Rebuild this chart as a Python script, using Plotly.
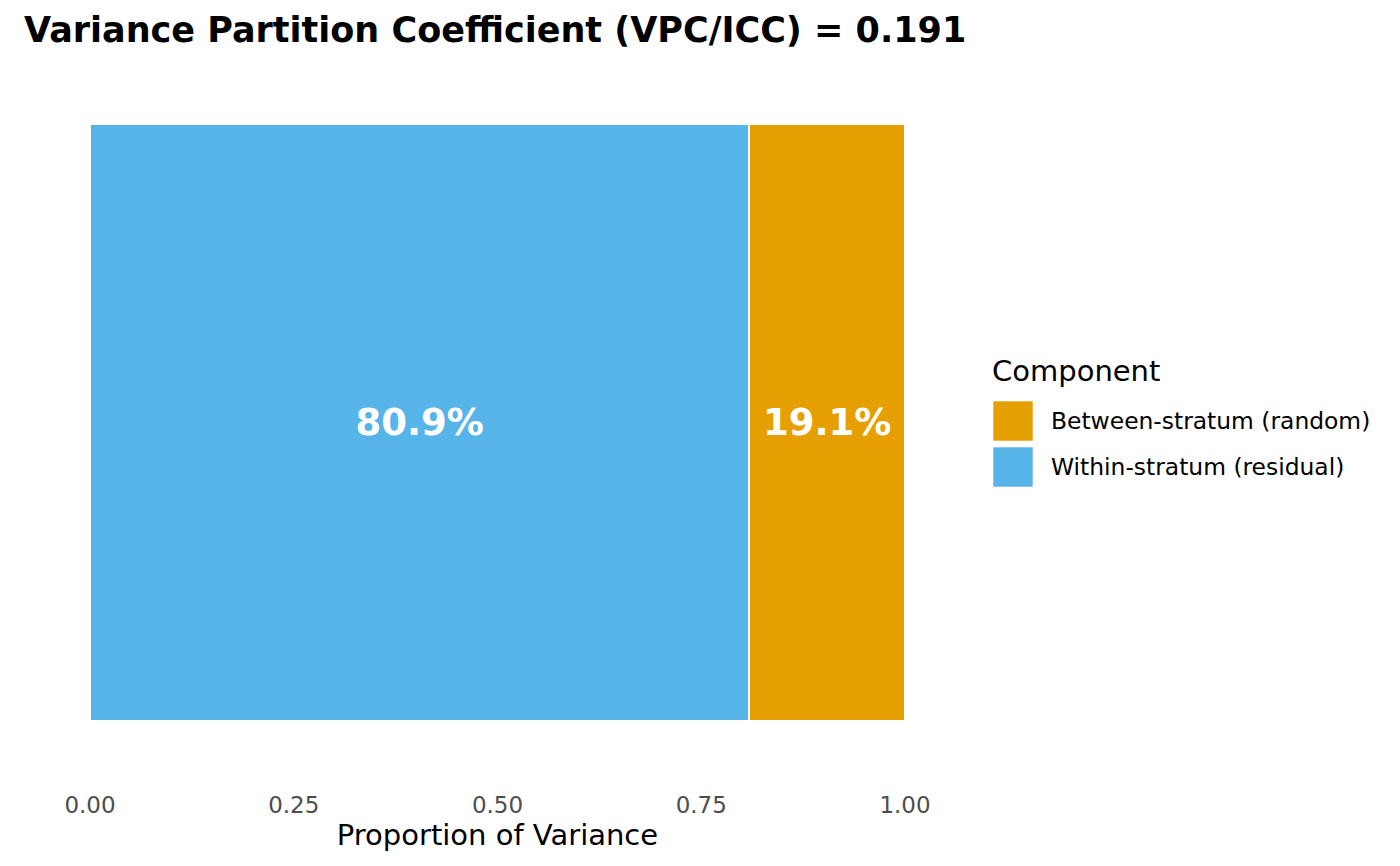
import plotly.graph_objects as go

# ---- data ----
components = ["Within-stratum (residual)", "Between-stratum (random)"]
proportions = [0.809, 0.191]
colors = ["#56B4E9", "#E69F00"]
legend_order = ["Between-stratum (random)", "Within-stratum (residual)"]
x_ticks = [0.0, 0.25, 0.50, 0.75, 1.00]
x_tick_labels = ["0.00", "0.25", "0.50", "0.75", "1.00"]
chart_title = "Variance Partition Coefficient (VPC/ICC) = 0.191"
x_title = "Proportion of Variance"
legend_title = "Component"

FONT = "DejaVu Sans"
W, H = 1400, 866
OFF = 8  # page body margin offset
L, T = 90 - OFF, 124 - OFF
R, B = W - (905 - OFF), H - (721 - OFF)
PW, PH = W - L - R, H - T - B


def px_x(px):
    return (px - OFF - L) / PW


def px_y(py):
    return (H - B - (py - OFF)) / PH


fig = go.Figure()
for name, val, col in zip(components, proportions, colors):
    fig.add_trace(go.Bar(
        x=[val], y=[0], orientation="h", width=0.9, name=name,
        marker=dict(color=col, line=dict(color="white", width=2)),
        text=[f"{val*100:.1f}%"], textposition="inside",
        insidetextanchor="middle", constraintext="none",
        textfont=dict(family=FONT, size=37, color="white", weight="bold"),
        showlegend=False, hoverinfo="x+name",
    ))

fig.update_layout(
    width=W, height=H, barmode="stack",
    margin=dict(l=L, r=R, t=T, b=B),
    paper_bgcolor="white", plot_bgcolor="white",
    font=dict(family=FONT),
    title=dict(text=f"<b>{chart_title}</b>", x=(24 - OFF) / W, xanchor="left",
               xref="container", yref="container", y=1 - (30 - OFF) / H,
               yanchor="middle", font=dict(family=FONT, size=35, color="black")),
    xaxis=dict(range=[0, 1], tickvals=x_ticks, ticktext=x_tick_labels,
               showgrid=False, zeroline=False, showline=False, ticks="",
               tickfont=dict(family=FONT, size=23, color="#4D4D4D"),
               ticklabelstandoff=68,
               title=dict(text=x_title, font=dict(family=FONT, size=29, color="black"),
                          standoff=5)),
    yaxis=dict(range=[-0.45, 0.45], visible=False),
)

# legend drawn as layout decoration
fig.add_annotation(x=px_x(990), y=px_y(371), xref="paper", yref="paper",
                   text=legend_title, showarrow=False, xanchor="left", yanchor="middle",
                   font=dict(family=FONT, size=29, color="black"))
centers = [421, 467]
for name, cy in zip(legend_order, centers):
    col = colors[components.index(name)]
    fig.add_shape(type="rect", xref="paper", yref="paper",
                  x0=px_x(993), x1=px_x(1033), y0=px_y(cy + 20), y1=px_y(cy - 20),
                  fillcolor=col, line=dict(color="rgba(255,255,255,0.6)", width=1))
    fig.add_annotation(x=px_x(1049), y=px_y(cy), xref="paper", yref="paper",
                       text=name, showarrow=False, xanchor="left", yanchor="middle",
                       font=dict(family=FONT, size=23.4, color="black"))

fig.write_html("out.html")
